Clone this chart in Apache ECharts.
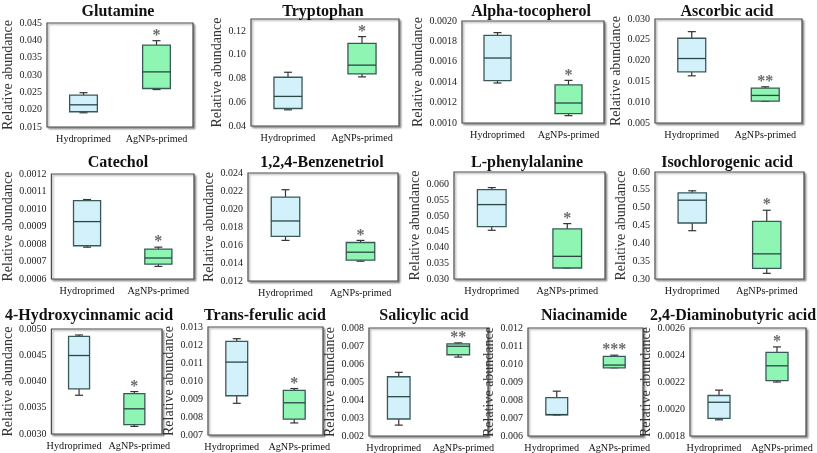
<!DOCTYPE html>
<html>
<head>
<meta charset="utf-8">
<script src="https://cdn.jsdelivr.net/npm/echarts@6/dist/echarts.min.js"></script>
<style>
html,body{margin:0;padding:0;background:#fff;}
#chart{width:817px;height:453px;}
</style>
</head>
<body>
<div id="chart"></div>
<script>
// ---------- data ----------
const titles = ['Glutamine','Tryptophan','Alpha-tocopherol','Ascorbic acid',
  'Catechol','1,2,4-Benzenetriol','L-phenylalanine','Isochlorogenic acid',
  '4-Hydroxycinnamic acid','Trans-ferulic acid','Salicylic acid','Niacinamide','2,4-Diaminobutyric acid'];
const categories = ['Hydroprimed','AgNPs-primed'];
const yAxisName = 'Relative abundance';
const yMin  = [0.015, 0.04, 0.0010, 0.005, 0.0006, 0.012, 0.030, 0.30, 0.0030, 0.007, 0.002, 0.006, 0.0018];
const yMax  = [0.045, 0.13, 0.0020, 0.030, 0.0012, 0.024, 0.064, 0.60, 0.0050, 0.013, 0.008, 0.012, 0.0026];
const yStep = [0.005, 0.02, 0.0002, 0.005, 0.0001, 0.002, 0.005, 0.05, 0.0005, 0.001, 0.001, 0.001, 0.0002];
const yDecimals = [3,2,4,3,4,3,3,2,4,3,3,3,4];
// [min, Q1, median, Q3, max]
const hydroprimed = [
  [0.0191, 0.0194, 0.0214, 0.0242, 0.0249],
  [0.0536, 0.0547, 0.0649, 0.0810, 0.0852],
  [0.001392, 0.001415, 0.001637, 0.00186, 0.001886],
  [0.01634, 0.0173, 0.0205, 0.02537, 0.02696],
  [0.000782, 0.00079, 0.000928, 0.001048, 0.001054],
  [0.01651, 0.01696, 0.01867, 0.02132, 0.02214],
  [0.04548, 0.04664, 0.05364, 0.0584, 0.05905],
  [0.4354, 0.457, 0.521, 0.5417, 0.5473],
  [0.003738, 0.003858, 0.004495, 0.004861, 0.004886],
  [0.00876, 0.00918, 0.01105, 0.0122, 0.01235],
  [0.002605, 0.002944, 0.004184, 0.005293, 0.005538],
  [0.00717, 0.00717, 0.00719, 0.00813, 0.00849],
  [0.00192, 0.00193, 0.00205, 0.0021, 0.00214]
];
const agnpsPrimed = [
  [0.0258, 0.0261, 0.0309, 0.0386, 0.0399],
  [0.0813, 0.0838, 0.0912, 0.1095, 0.1152],
  [0.001072, 0.001092, 0.001196, 0.001373, 0.001418],
  [0.0102, 0.01027, 0.01163, 0.01339, 0.0137],
  [0.000672, 0.000685, 0.00072, 0.000771, 0.000782],
  [0.0142, 0.01431, 0.0152, 0.01628, 0.01651],
  [0.0335, 0.0335, 0.0372, 0.0459, 0.0476],
  [0.3159, 0.33, 0.3705, 0.4617, 0.4928],
  [0.003145, 0.003177, 0.00348, 0.00377, 0.003808],
  [0.00767, 0.00788, 0.00879, 0.00948, 0.00958],
  [0.006383, 0.006515, 0.006985, 0.007117, 0.007173],
  [0.00979, 0.00979, 0.00994, 0.01042, 0.01049],
  [0.00220, 0.00221, 0.00232, 0.00242, 0.00246]
];
const significance = ['*','*','*','**','*','*','*','*','*','*','**','***','*'];

// ---------- layout (pixels) ----------
const gridBox = [ // left, top, width, height
  [47,23,146,104],[251,19,148,107],[462,21,142,102],[655,19,147,104],
  [47,174,147,105],[248,173,150,108],[454,172,151,107],[655,172,149,107],
  [48,329,114,105],[208,327,115,108],[369,328,119,109],[528,328,115,109],[690,328,116,109]
];
const titlePos = [ // center x, top
  [118,4],[323,4],[531,4],[727,4],
  [118,155],[322,155],[527,155],[727,155],
  [89,308],[265,308],[424,308],[584,308],[733,308]
];
const nameGaps = [32,22,32,25,33,27,29,26,34,29,27,28,32];
const hideMax = [false,true,false,false,false,false,true,false,false,false,false,false,false];
const labelSpread = [0,0,0,0,0,0,0,0,10,10,10,10,10]; // extra outward offset of category labels

const FONT = "'Liberation Serif', 'Times New Roman', serif";
const fills = ['#d3f1fb', '#8ff5b2'];
const edge = '#3a5858';

const option = {
  backgroundColor: '#fff',
  animation: false,
  title: [], grid: [], xAxis: [], yAxis: [], series: []
};

titles.forEach((t, i) => {
  const g = gridBox[i];
  option.title.push({
    text: t, left: titlePos[i][0], top: titlePos[i][1], textAlign: 'center', padding: 0,
    textStyle: {fontFamily: FONT, fontWeight: 'bold', fontSize: 16, color: '#111'}
  });
  option.grid.push({
    left: g[0], top: g[1], width: g[2], height: g[3], show: true,
    backgroundColor: '#fff', borderColor: '#4a4a4a', borderWidth: 1.2,
    shadowColor: 'rgba(0,0,0,0.35)', shadowBlur: 2, shadowOffsetX: 1.5, shadowOffsetY: 1.5
  });
  const sp = labelSpread[i];
  const labStyle = {fontFamily: FONT, fontSize: 10.2, color: '#111'};
  option.xAxis.push({
    type: 'category', gridIndex: i, data: categories,
    axisLine: {show: false}, axisTick: {show: false}, splitLine: {show: false},
    axisLabel: Object.assign({margin: 7, interval: 0,
      formatter: (v, idx) => idx === 0 ? '{h|' + v + '}' : '{a|' + v + '}',
      rich: {
        h: Object.assign({padding: [0, sp, 0, 0]}, labStyle),
        a: Object.assign({padding: [0, 0, 0, sp]}, labStyle)
      }}, labStyle)
  });
  const dec = yDecimals[i];
  option.yAxis.push({
    type: 'value', gridIndex: i, min: yMin[i], max: yMax[i], interval: yStep[i],
    name: yAxisName, nameLocation: 'middle', nameGap: nameGaps[i],
    nameTextStyle: {fontFamily: FONT, fontSize: 14, color: '#333'},
    axisLine: {show: false}, axisTick: {show: false}, splitLine: {show: false},
    axisLabel: {fontFamily: FONT, fontSize: 10, color: '#222', margin: 5,
      showMaxLabel: !hideMax[i], formatter: v => v.toFixed(dec)}
  });
  const rows = [hydroprimed[i], agnpsPrimed[i]].map((r, k) => [k].concat(r));
  option.series.push({
    type: 'custom', xAxisIndex: i, yAxisIndex: i,
    encode: {x: 0, y: [1,2,3,4,5]},
    data: rows,
    renderItem: function (params, api) {
      const k = api.value(0);
      const mn = api.value(1), q1 = api.value(2), md = api.value(3), q3 = api.value(4), mx = api.value(5);
      const cx = api.coord([k, md])[0];
      const band = api.size([1, 0])[0];
      const hw = band * 0.19;
      const cap = 4;
      const yMn = api.coord([k, mn])[1], yQ1 = api.coord([k, q1])[1], yMd = api.coord([k, md])[1];
      const yQ3 = api.coord([k, q3])[1], yMx = api.coord([k, mx])[1];
      const lineStyle = {stroke: '#333', lineWidth: 1.2};
      const children = [
        {type: 'line', shape: {x1: cx, y1: yQ3, x2: cx, y2: yMx}, style: lineStyle},
        {type: 'line', shape: {x1: cx - cap, y1: yMx, x2: cx + cap, y2: yMx}, style: lineStyle},
        {type: 'line', shape: {x1: cx, y1: yQ1, x2: cx, y2: yMn}, style: lineStyle},
        {type: 'line', shape: {x1: cx - cap, y1: yMn, x2: cx + cap, y2: yMn}, style: lineStyle},
        {type: 'rect', shape: {x: cx - hw, y: yQ3, width: 2 * hw, height: yQ1 - yQ3},
          style: {fill: fills[k], stroke: edge, lineWidth: 1.3}},
        {type: 'line', shape: {x1: cx - hw, y1: yMd, x2: cx + hw, y2: yMd},
          style: {stroke: '#2c4646', lineWidth: 1.3}}
      ];
      if (k === 1) {
        children.push({type: 'text', x: cx, y: yMx - 5,
          style: {text: significance[i], fill: '#6a6a6a', font: 'bold 16px ' + FONT,
            align: 'center', verticalAlign: 'middle'}});
      }
      return {type: 'group', children: children};
    }
  });
});

const chart = echarts.init(document.getElementById('chart'), null, {renderer: 'canvas'});
chart.setOption(option);
</script>
</body>
</html>
